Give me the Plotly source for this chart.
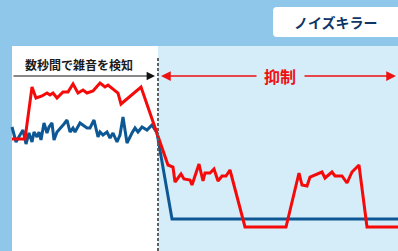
import plotly.graph_objects as go

# Time (horizontal position) and signal level (height)
red_time = [12, 25, 32, 36, 42, 47, 50, 53, 57, 63, 68, 73, 78, 83, 87, 93, 100, 105, 108, 118, 121, 141,
            168, 173, 175, 181, 184, 190, 192, 199, 203, 205, 210, 214, 218, 222, 226, 230, 245, 286,
            299, 302, 307, 310, 322, 325, 332, 335, 342, 347, 352, 359, 367, 398]
red_level = [112, 112, 164, 153, 155, 158, 156, 158, 153, 159, 159, 167, 158, 161, 158, 160, 168, 164, 166, 158, 147, 164,
             86, 84, 69, 77, 72, 71, 66, 87, 70, 78, 78, 82, 70, 75, 75, 81, 24, 24,
             78, 66, 65, 74, 79, 73, 79, 75, 75, 68, 79, 86, 24, 24]

blue_time = [12, 16, 20, 23, 26, 29, 32, 34, 37, 39, 41, 44, 47, 49, 52, 54, 57, 61, 64, 67, 70, 73, 75, 80, 84,
             87, 90, 94, 98, 100, 103, 107, 110, 113, 117, 120, 123, 127, 132, 135, 138, 142, 147, 152, 157,
             172, 398]
blue_level = [124, 109, 116, 121, 107, 118, 109, 119, 114, 119, 111, 128, 118, 124, 128, 111, 119, 123, 127, 131, 119, 123, 119, 128, 125,
              123, 123, 131, 114, 119, 116, 119, 113, 118, 109, 116, 134, 108, 118, 123, 119, 124, 121, 126, 118,
              32, 32]

title_text = "ノイズキラー"
detect_text = "数秒間で雑音を検知"
suppress_text = "抑制"

FONT = "Noto Sans CJK JP"

fig = go.Figure()
fig.add_trace(go.Scatter(x=blue_time, y=blue_level, mode="lines",
                         line=dict(color="#0D5894", width=3), hoverinfo="skip"))
fig.add_trace(go.Scatter(x=red_time, y=red_level, mode="lines",
                         line=dict(color="#F50A0A", width=3), hoverinfo="skip"))

shapes = [
    dict(type="rect", xref="x", yref="y", x0=12, x1=158, y0=0, y1=205, fillcolor="#FFFFFF",
         line=dict(width=0), layer="below"),
    dict(type="rect", xref="x", yref="y", x0=158, x1=398, y0=0, y1=205, fillcolor="#D5ECF9",
         line=dict(width=0), layer="below"),
    dict(type="line", xref="x", yref="y", x0=158, x1=158, y0=0, y1=193,
         line=dict(color="#606060", width=2, dash="3px,2px"), layer="above"),
    dict(type="path", xref="x", yref="y",
         path="M 277 244 L 400 244 L 400 214 L 277 214 Q 273 214 273 218 L 273 240 Q 273 244 277 244 Z",
         fillcolor="#FFFFFF", line=dict(width=0), layer="below"),
]

annotations = [
    dict(x=336, y=229, xref="x", yref="y", text=title_text, showarrow=False,
         font=dict(family=FONT, size=14, color="#0F3566", weight="bold")),
    dict(x=79, y=187, xref="x", yref="y", text=detect_text, showarrow=False,
         font=dict(family=FONT, size=12, color="#1A1A1A", weight="bold")),
    dict(x=155, y=175, ax=12, ay=175, xref="x", yref="y", axref="x", ayref="y", text="",
         showarrow=True, arrowhead=2, arrowsize=1.4, arrowwidth=1.2, arrowcolor="#111111"),
    dict(x=280, y=175, xref="x", yref="y", text=suppress_text, showarrow=False,
         font=dict(family=FONT, size=16, color="#EE1111", weight="bold")),
    dict(x=161, y=175, ax=258, ay=175, xref="x", yref="y", axref="x", ayref="y", text="",
         showarrow=True, arrowhead=2, arrowsize=1.3, arrowwidth=1.5, arrowcolor="#EE1111"),
    dict(x=396, y=175, ax=303, ay=175, xref="x", yref="y", axref="x", ayref="y", text="",
         showarrow=True, arrowhead=2, arrowsize=1.3, arrowwidth=1.5, arrowcolor="#EE1111"),
]

fig.update_layout(
    width=398, height=251,
    margin=dict(l=0, r=0, t=0, b=0),
    paper_bgcolor="#8FC7EA", plot_bgcolor="rgba(0,0,0,0)",
    showlegend=False,
    xaxis=dict(range=[0, 398], visible=False, fixedrange=True),
    yaxis=dict(range=[0, 251], visible=False, fixedrange=True),
    shapes=shapes, annotations=annotations,
)

fig.write_html("out.html", config={"displayModeBar": False},
               post_script="document.body.style.margin='0';document.body.style.overflow='hidden';")
